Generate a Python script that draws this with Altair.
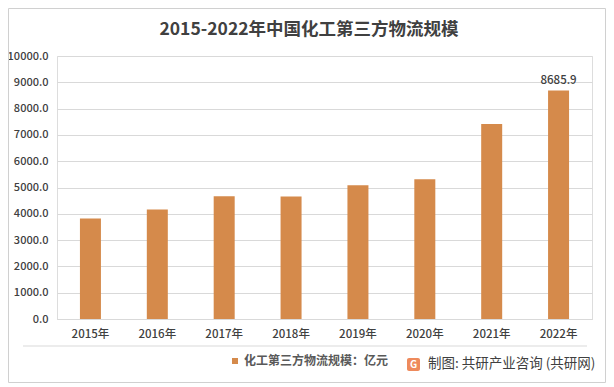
import altair as alt
import pandas as pd

years = ["2015年", "2016年", "2017年", "2018年", "2019年", "2020年", "2021年", "2022年"]
values = [3821.0, 4163.0, 4669.0, 4658.0, 5087.0, 5316.0, 7418.0, 8685.9]
series_name = "化工第三方物流规模：亿元"
title_text = "2015-2022年中国化工第三方物流规模"
source_text = "制图: 共研产业咨询 (共研网)"
y_ticks = [0, 1000, 2000, 3000, 4000, 5000, 6000, 7000, 8000, 9000, 10000]

FONT = "Noto Sans CJK SC"
BAR = "#D58A4B"
W, H = 535, 263
LBL = "#404040"

df = pd.DataFrame({"year": years, "value": values, "series": [series_name] * len(years)})
one = pd.DataFrame({"title": [title_text], "source": [source_text]})

base = alt.Chart(df)
ann = alt.Chart(one)

x_enc = alt.X(
    "year:N",
    sort=years,
    title=None,
    scale=alt.Scale(paddingInner=0.68, paddingOuter=0.34),
    axis=alt.Axis(
        labelAngle=0, labelFont=FONT, labelFontSize=11.5, labelColor=LBL,
        labelFontWeight=500, labelPadding=9, ticks=False, domainColor="#D9D9D9",
        grid=False, labelOverlap=False,
    ),
)
y_enc = alt.Y(
    "value:Q",
    title=None,
    scale=alt.Scale(domain=[0, 10000], nice=False),
    axis=alt.Axis(
        values=y_ticks, tickCount=11, format=".1f", labelFont=FONT, labelFontSize=11,
        labelColor=LBL, labelFontWeight=500, labelPadding=9, ticks=False, domain=False,
        gridColor="#D9D9D9", gridWidth=1, labelOverlap=False,
    ),
)

bars = base.mark_bar(size=21).encode(
    x=x_enc,
    y=y_enc,
    color=alt.Color(
        "series:N",
        scale=alt.Scale(domain=[series_name], range=[BAR]),
        legend=alt.Legend(
            title=None, orient="none", legendX=172, legendY=299,
            symbolType="square", symbolSize=36, symbolStrokeWidth=0,
            labelFont=FONT, labelFontSize=12, labelFontWeight="bold",
            labelColor="#595959", labelOffset=3,
        ),
    ),
)

label = base.transform_filter(alt.datum.year == "2022年").mark_text(
    font=FONT, fontSize=11.5, fontWeight=500, color=LBL, baseline="bottom", dy=-5
).encode(x=x_enc, y=y_enc, text=alt.Text("value:Q", format=".1f"))

sep = ann.mark_rule(color="#D9D9D9", strokeWidth=1).encode(
    x=alt.value(-34), x2=alt.value(530), y=alt.value(290)
)

border = ann.mark_rect(fill=None, stroke="#D0D0D0", strokeWidth=1).encode(
    x=alt.value(-48.5), x2=alt.value(W + 13.5), y=alt.value(-47.5), y2=alt.value(H + 63.5)
)

title = ann.mark_text(
    font=FONT, fontSize=17.5, fontWeight="bold", color="#404040",
    align="center", baseline="middle",
).encode(x=alt.value(252), y=alt.value(-26), text="title:N")

logo = ann.mark_rect(color="#EE8A5C", cornerRadius=2).encode(
    x=alt.value(350), x2=alt.value(363), y=alt.value(302), y2=alt.value(315)
)
logo_g = ann.mark_text(text="G", font=FONT, fontSize=10, fontWeight="bold", color="white").encode(
    x=alt.value(356.5), y=alt.value(309)
)

src = ann.mark_text(
    font=FONT, fontSize=13.5, fontWeight="normal", color="#404040",
    align="left", baseline="middle",
).encode(x=alt.value(371), y=alt.value(308), text="source:N")

chart = alt.layer(border, title, bars, label, sep, logo, logo_g, src).properties(
    width=W,
    height=H,
    autosize=alt.AutoSizeParams(type="none"),
    padding={"left": 49, "top": 48, "right": 14, "bottom": 64},
).configure_view(stroke=None).configure(background="white")

chart.save("out.html", embed_options={"renderer": "svg", "actions": False})
